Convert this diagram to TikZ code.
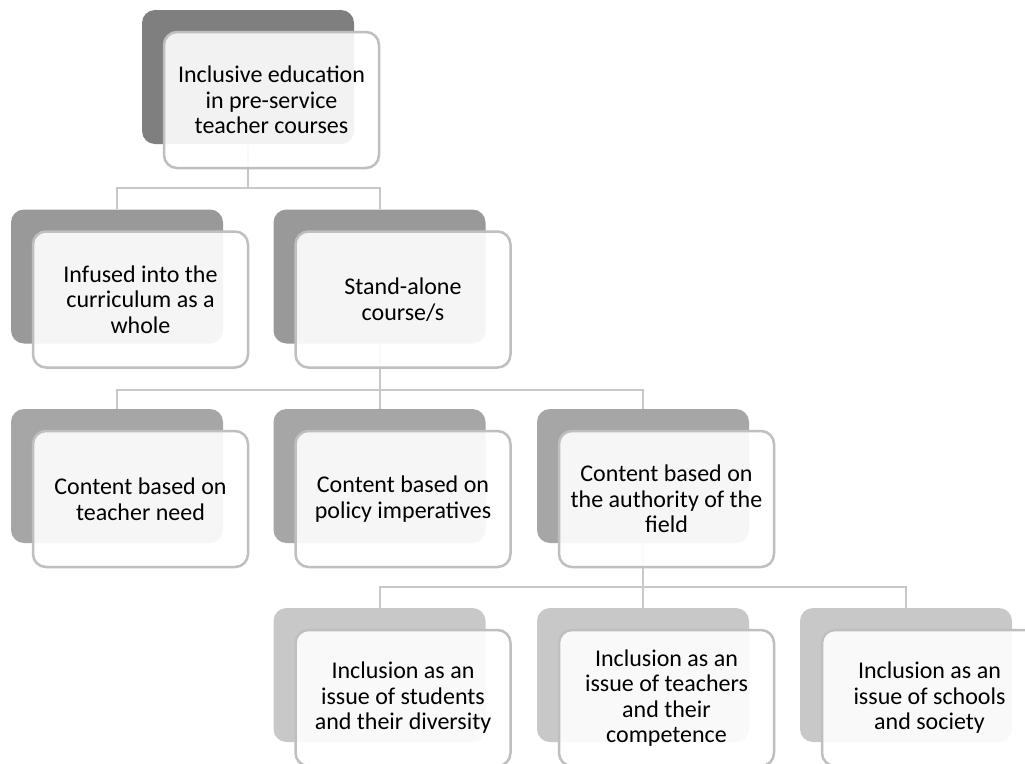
\documentclass[tikz,border=0pt]{standalone}
\usepackage{fontspec}
\setmainfont{Carlito}
\definecolor{cA}{RGB}{127,127,127}
\definecolor{cB}{RGB}{153,153,153}
\definecolor{cC}{RGB}{166,166,166}
\definecolor{cD}{RGB}{200,200,200}
\definecolor{linegray}{RGB}{200,200,200}
\definecolor{bordergray}{RGB}{191,191,191}
\tikzset{
  back/.style={rounded corners=13pt, minimum width=212pt, minimum height=134pt, inner sep=0pt},
  front/.style={draw=bordergray, line width=2.5pt, fill=white, fill opacity=0.9, text opacity=1,
    rounded corners=13pt, minimum width=215pt, minimum height=136pt, inner sep=0pt,
    align=center, text=black, font=\fontsize{24}{25.5}\selectfont},
  conn/.style={draw=linegray, line width=2pt}
}
\newcommand\mkback[4]{\node[back, fill=#4] (b#1) at (#2,#3) {};}
\newcommand\mkfront[4]{\node[front] (f#1) at (#2+23.5,#3+23) {#4};}
\begin{document}
\begin{tikzpicture}[x=1pt,y=-1pt]
\useasboundingbox (0,0) rectangle (1025,763);
\clip (0,0) rectangle (1025,763);
\fill[white] (0,0) rectangle (1025,763);
% back boxes
\mkback{0}{248}{77}{cA}
\mkback{1}{117}{276.5}{cB}
\mkback{2}{379.5}{276.5}{cB}
\mkback{3}{117}{476}{cC}
\mkback{4}{379.5}{476}{cC}
\mkback{5}{643}{476}{cC}
\mkback{6}{379.5}{675}{cD}
\mkback{7}{643}{675}{cD}
\mkback{8}{906}{675}{cD}
% connectors
\coordinate (h0) at (248,188);
\coordinate (h1) at (379.5,390);
\coordinate (h2) at (643,587);
\draw[conn] (b0.south) -- (h0);
\draw[conn] (b1.north) |- (h0);
\draw[conn] (b2.north) |- (h0);
\draw[conn] (b2.south) -- (h1);
\draw[conn] (b3.north) |- (h1);
\draw[conn] (b4.north) |- (h1);
\draw[conn] (b5.north) |- (h1);
\draw[conn] (b5.south) -- (h2);
\draw[conn] (b6.north) |- (h2);
\draw[conn] (b7.north) |- (h2);
\draw[conn] (b8.north) |- (h2);
% front boxes
\mkfront{0}{248}{77}{Inclusive education\\in pre-service\\teacher courses}
\mkfront{1}{117}{276.5}{Infused into the\\curriculum as a\\whole}
\mkfront{2}{379.5}{276.5}{Stand-alone\\course/s}
\mkfront{3}{117}{476}{Content based on\\teacher need}
\mkfront{4}{379.5}{476}{Content based on\\policy imperatives}
\mkfront{5}{643}{476}{Content based on\\the authority of the\\field}
\mkfront{6}{379.5}{675}{Inclusion as an\\issue of students\\and their diversity}
\mkfront{7}{643}{675}{Inclusion as an\\issue of teachers\\and their\\competence}
\mkfront{8}{906}{675}{Inclusion as an\\issue of schools\\and society}
\end{tikzpicture}
\end{document}
